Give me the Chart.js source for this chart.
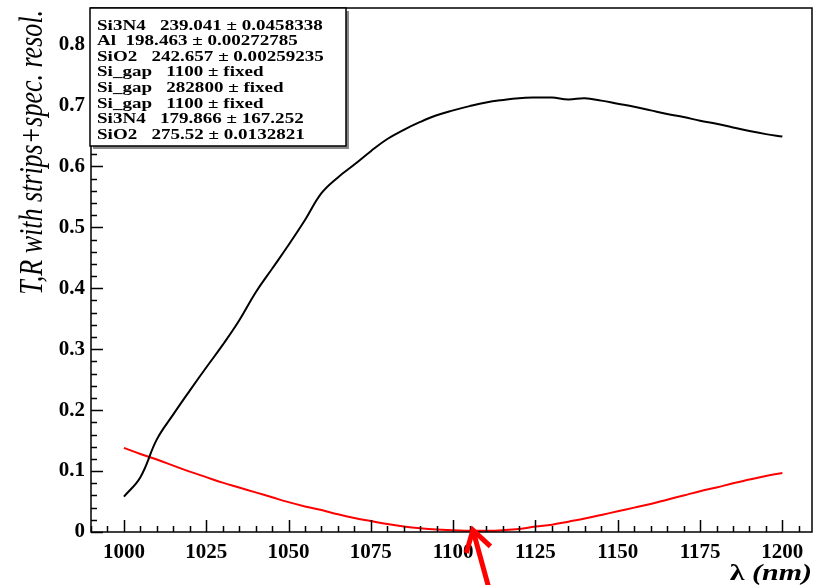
<!DOCTYPE html>
<html>
<head>
<meta charset="utf-8">
<script src="https://cdn.jsdelivr.net/npm/chart.js@4"></script>
<style>
  html, body { margin: 0; padding: 0; background: #ffffff; }
  #wrap { width: 815px; height: 585px; position: relative; }
</style>
</head>
<body>
<div id="wrap"><canvas id="c" width="815" height="585"></canvas></div>
<script>
// ---- data ----
const wavelength = [1000,1005,1010,1015,1020,1025,1030,1035,1040,1045,1050,1055,1060,1065,1070,1075,1080,1085,1090,1095,1100,1105,1110,1115,1120,1125,1130,1135,1140,1145,1150,1155,1160,1165,1170,1175,1180,1185,1190,1195,1200];
const transmission = [0.058,0.090,0.152,0.193,0.232,0.270,0.307,0.347,0.393,0.432,0.471,0.512,0.556,0.582,0.603,0.625,0.645,0.660,0.673,0.684,0.692,0.699,0.705,0.709,0.712,0.713,0.713,0.710,0.712,0.708,0.703,0.698,0.692,0.686,0.681,0.675,0.670,0.664,0.658,0.653,0.649];
const reflection = [0.138,0.128,0.119,0.109,0.099,0.090,0.081,0.073,0.065,0.057,0.049,0.042,0.036,0.029,0.023,0.018,0.013,0.009,0.006,0.004,0.003,0.002,0.002,0.003,0.005,0.009,0.012,0.017,0.022,0.028,0.034,0.040,0.046,0.053,0.060,0.067,0.073,0.080,0.086,0.092,0.097];
const xTickLabels = [1000,1025,1050,1075,1100,1125,1150,1175,1200];
const yTickLabels = [0,0.1,0.2,0.3,0.4,0.5,0.6,0.7,0.8];
const paveLines = [
  "Si3N4   239.041 \u00b1 0.0458338",
  "Al  198.463 \u00b1 0.00272785",
  "SiO2   242.657 \u00b1 0.00259235",
  "Si_gap   1100 \u00b1 fixed",
  "Si_gap   282800 \u00b1 fixed",
  "Si_gap   1100 \u00b1 fixed",
  "Si3N4   179.866 \u00b1 167.252",
  "SiO2   275.52 \u00b1 0.0132821"
];
const yTitle = "T,R with strips+spec. resol.";
const arrowTip = {x: 1106, y: 0};
const arrowTailX = 1111;

const SERIF = '"Liberation Serif", "DejaVu Serif", serif';

const toPts = (ys) => wavelength.map((x, i) => ({x: x, y: ys[i]}));

const decor = {
  id: 'decor',
  afterDraw(chart) {
    const ctx = chart.ctx;
    const xs = chart.scales.x, ys = chart.scales.y;
    const a = chart.chartArea;
    ctx.save();
    // frame
    ctx.strokeStyle = '#000';
    ctx.lineWidth = 1.5;
    ctx.strokeRect(a.left, a.top, a.right - a.left, a.bottom - a.top);
    // x ticks (inward)
    ctx.beginPath();
    for (let v = 990; v <= xs.max + 0.01; v += 5) {
      const px = Math.round(xs.getPixelForValue(v)) + 0.5;
      const major = (v % 25 === 0);
      const len = major ? 12 : 6;
      ctx.moveTo(px, a.bottom);
      ctx.lineTo(px, a.bottom - len);
    }
    // y ticks (inward)
    for (let k = 0; k <= 43; k++) {
      const v = k * 0.02;
      if (v > ys.max + 1e-9) break;
      const py = Math.round(ys.getPixelForValue(v)) + 0.5;
      const major = (k % 5 === 0);
      const len = major ? 12 : 6;
      ctx.moveTo(a.left, py);
      ctx.lineTo(a.left + len, py);
    }
    ctx.stroke();

    // pave (parameter box)
    const bx = a.left - 1, by = a.top, bw = 256, bh = 138;
    ctx.fillStyle = '#888';
    ctx.fillRect(bx + 3, by + 3, bw, bh);
    ctx.fillStyle = '#fff';
    ctx.fillRect(bx, by, bw, bh);
    ctx.strokeStyle = '#000';
    ctx.lineWidth = 1.5;
    ctx.strokeRect(bx, by, bw, bh);
    ctx.fillStyle = '#000';
    ctx.font = 'bold 14px ' + SERIF;
    ctx.textBaseline = 'middle';
    ctx.textAlign = 'left';
    paveLines.forEach((t, i) => {
      ctx.save();
      ctx.translate(bx + 7, by + 18 + i * 15.6);
      ctx.scale(1.36, 1);
      ctx.fillText(t, 0, 0);
      ctx.restore();
    });

    // y title (rotated, stretched)
    ctx.save();
    ctx.font = 'italic 26px ' + SERIF;
    ctx.translate(33, a.top + 2);
    ctx.scale(1.3, 1);
    ctx.rotate(-Math.PI / 2);
    ctx.textAlign = 'right';
    ctx.textBaseline = 'middle';
    ctx.fillText(yTitle, 0, 0);
    ctx.restore();

    // x title
    ctx.save();
    ctx.textBaseline = 'alphabetic';
    ctx.textAlign = 'right';
    ctx.translate(a.right, 580);
    ctx.scale(1.25, 1);
    ctx.font = 'bold italic 24px ' + SERIF;
    const w2 = ctx.measureText('(nm)').width;
    ctx.fillText('(nm)', 0, 0);
    ctx.font = 'bold 24px ' + SERIF;
    ctx.fillText('\u03bb ', -w2, 0);
    ctx.restore();

    // red arrow annotation
    const tx = xs.getPixelForValue(arrowTip.x), ty = ys.getPixelForValue(arrowTip.y) - 2;
    const sx = xs.getPixelForValue(arrowTailX), sy = chart.height + 5;
    ctx.strokeStyle = '#ff0000';
    ctx.lineWidth = 5;
    ctx.lineCap = 'butt';
    ctx.beginPath();
    ctx.moveTo(sx, sy);
    ctx.lineTo(tx, ty);
    ctx.stroke();
    const ang = Math.atan2(sy - ty, sx - tx);
    const L = 24, spread = 0.55;
    ctx.beginPath();
    ctx.moveTo(tx + L * Math.cos(ang - spread), ty + L * Math.sin(ang - spread));
    ctx.lineTo(tx, ty);
    ctx.lineTo(tx + L * Math.cos(ang + spread), ty + L * Math.sin(ang + spread));
    ctx.lineJoin = 'miter';
    ctx.stroke();
    ctx.restore();
  }
};

new Chart(document.getElementById('c'), {
  type: 'line',
  data: {
    datasets: [
      { label: 'T', data: toPts(transmission), borderColor: '#000000', borderWidth: 2, pointRadius: 0, tension: 0.4, fill: false },
      { label: 'R', data: toPts(reflection), borderColor: '#ff0000', borderWidth: 2, pointRadius: 0, tension: 0.4, fill: false }
    ]
  },
  options: {
    responsive: false,
    animation: false,
    events: [],
    layout: { padding: { top: 8, right: 3, left: 0, bottom: 0 } },
    plugins: { legend: { display: false }, tooltip: { enabled: false }, title: { display: false } },
    scales: {
      x: {
        type: 'linear', min: 990, max: 1209,
        afterBuildTicks: (s) => { s.ticks = xTickLabels.map(v => ({value: v})); },
        afterFit: (s) => { s.height = 53; s.paddingLeft = 0; s.paddingRight = 0; },
        grid: { display: false, drawTicks: false },
        border: { display: false },
        ticks: { padding: 8, color: '#000', font: { family: SERIF, size: 21, weight: 'bold' }, maxRotation: 0, autoSkip: false, callback: (v) => String(v) }
      },
      y: {
        type: 'linear', min: 0, max: 0.86,
        afterBuildTicks: (s) => { s.ticks = yTickLabels.map(v => ({value: v})); },
        afterFit: (s) => { s.width = 91; s.paddingTop = 0; s.paddingBottom = 0; },
        grid: { display: false, drawTicks: false },
        border: { display: false },
        ticks: { padding: 6, color: '#000', font: { family: SERIF, size: 21, weight: 'bold' }, autoSkip: false, callback: (v) => (v === 0 ? '0' : v.toFixed(1)) }
      }
    }
  },
  plugins: [decor]
});
</script>
</body>
</html>
